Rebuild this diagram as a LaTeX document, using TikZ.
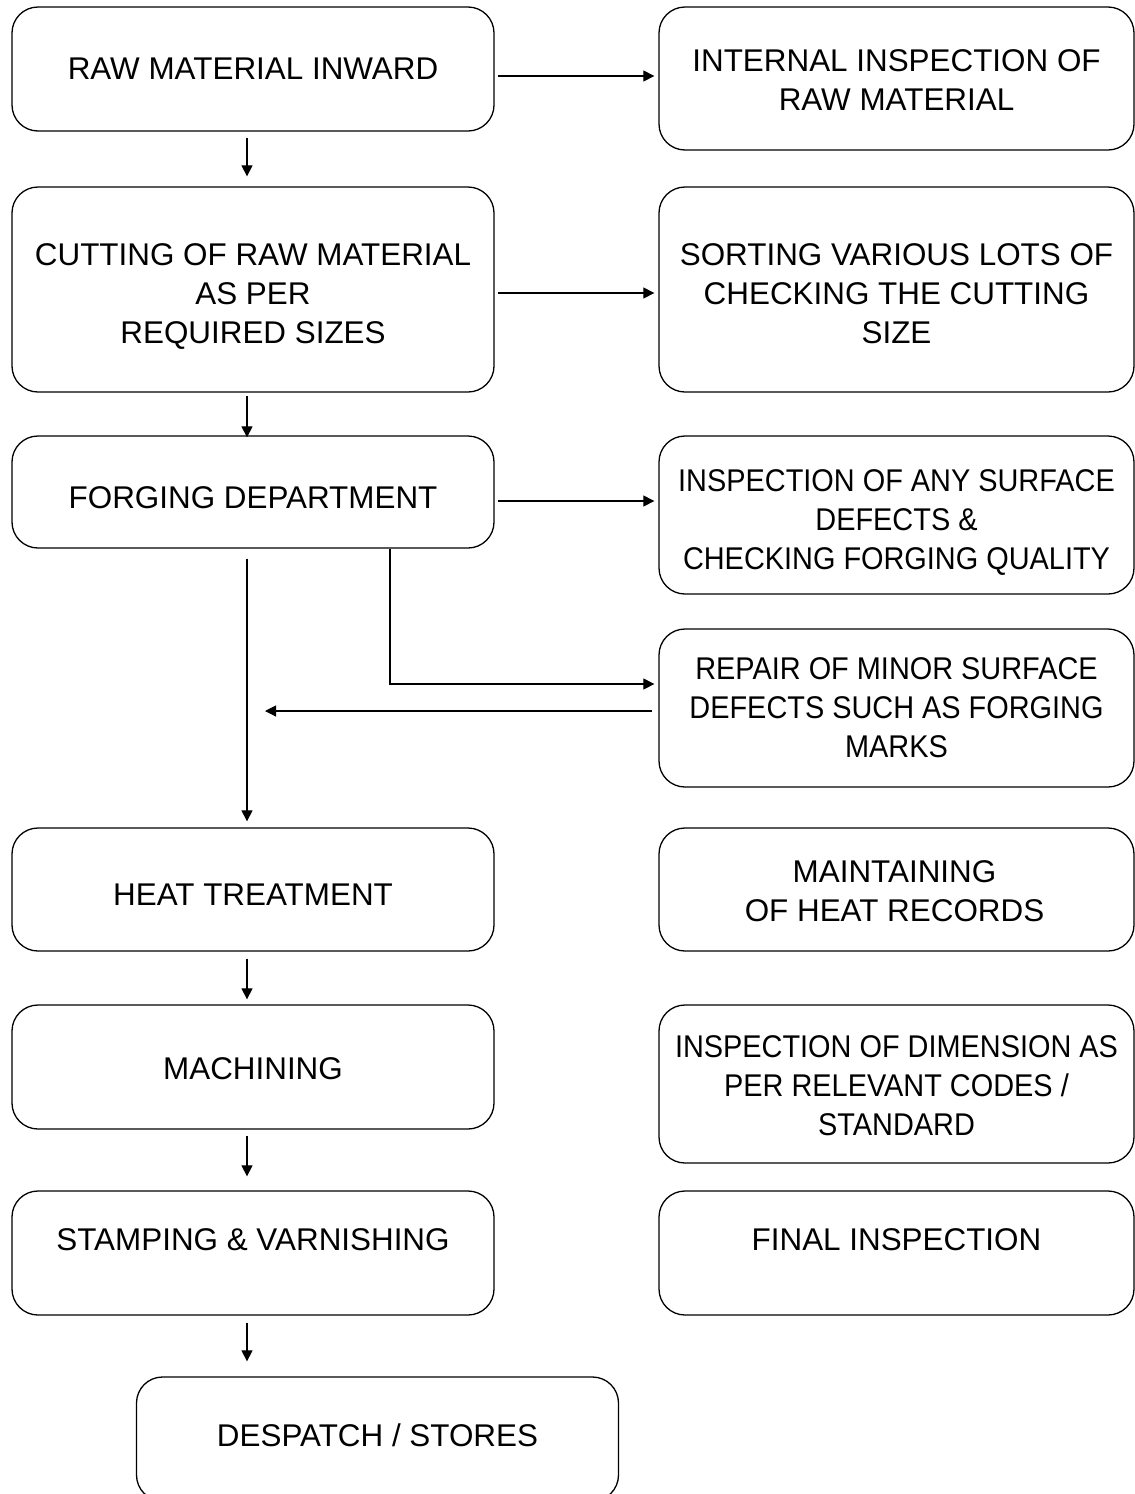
\documentclass[tikz,border=0pt]{standalone}
\usepackage{fontspec}
\setmainfont{Liberation Sans}
\newfontfamily\narrowfont[FakeStretch=0.92]{Liberation Sans}
\usepackage{tikz}
\usetikzlibrary{arrows.meta}

\begin{document}
\begin{tikzpicture}[x=0.5pt, y=-0.5pt,
	box/.style={draw, line width=0.65pt, rounded corners=13pt},
	lbox/.style={box, minimum width=241pt},
	rbox/.style={box, minimum width=237.5pt},
	txt/.style={align=center, inner sep=0pt},
	arr/.style={-{Triangle[length=5.5pt,width=5.5pt]}, line width=0.55pt},
	node font=\fontsize{15.7pt}{19.5pt}\selectfont]
	\useasboundingbox (0,0) rectangle (1135,1494);

	\node[lbox, minimum height=62pt,	label={[txt]center:RAW MATERIAL INWARD}]	(inward)	at (253,69) {};
	\node[lbox, minimum height=102.5pt,	label={[txt, yshift=-3.5pt]center:CUTTING OF RAW MATERIAL\\AS PER\\REQUIRED SIZES}]	(cutting)	at (253,289.5) {};
	\node[lbox, minimum height=56pt,	label={[txt, yshift=-3pt]center:FORGING DEPARTMENT}]	(forging)	at (253,492) {};
	\node[lbox, minimum height=61.5pt,	label={[txt, yshift=-2.5pt]center:HEAT TREATMENT}]	(heat)	at (253,889.5) {};
	\node[lbox, minimum height=62pt,	label={[txt, yshift=-1pt]center:MACHINING}]	(machining)	at (253,1067) {};
	\node[lbox, minimum height=62pt,	label={[txt, yshift=6.5pt]center:STAMPING \& VARNISHING}]	(stamping)	at (253,1253) {};
	\node[lbox, minimum height=62pt,	label={[txt, yshift=2pt]center:DESPATCH / STORES}]	(despatch)	at (377.5,1439) {};

	\node[rbox, minimum height=71.5pt,	label={[txt, yshift=-1pt]center:INTERNAL INSPECTION OF\\RAW MATERIAL}]	(rawinsp)	at (896.5,78.5) {};
	\node[rbox, minimum height=102.5pt,	label={[txt, yshift=-2pt]center:SORTING VARIOUS LOTS OF\\CHECKING THE CUTTING\\SIZE}]	(sorting)	at (896.5,289.5) {};
	\node[rbox, minimum height=79pt,	label={[txt, font=\narrowfont, yshift=-3.5pt]center:INSPECTION OF ANY SURFACE\\DEFECTS \&\\CHECKING FORGING QUALITY}]	(surface)	at (896.5,515) {};
	\node[rbox, minimum height=79pt,	label={[txt, font=\narrowfont]center:REPAIR OF MINOR SURFACE\\DEFECTS SUCH AS FORGING\\MARKS}]	(repair)	at (896.5,708) {};
	\node[rbox, minimum height=61.5pt,	label={[txt, xshift=-1pt, yshift=-0.75pt]center:MAINTAINING\\OF HEAT RECORDS}]	(records)	at (896.5,889.5) {};
	\node[rbox, minimum height=79pt,	label={[txt, font=\narrowfont, yshift=-1pt]center:INSPECTION OF DIMENSION AS\\PER RELEVANT CODES /\\STANDARD}]	(dimension)	at (896.5,1084) {};
	\node[rbox, minimum height=62pt,	label={[txt, yshift=6.5pt]center:FINAL INSPECTION}]	(final)	at (896.5,1253) {};

	\coordinate (back) at (265,711);

	\draw[arr] ([shift={(3,7)}]inward.east) -- ([shift={(-4,-2.5)}]rawinsp.west);
	\draw[arr] ([shift={(3,3.5)}]cutting.east) -- ([shift={(-4,3.5)}]sorting.west);
	\draw[arr] ([shift={(3,9)}]forging.east) -- ([shift={(-4,-14)}]surface.west);
	\draw[arr] ([shift={(137,0)}]forging.south) |- ([shift={(-4,-24)}]repair.west);
	\draw[arr] ([shift={(-6,3)}]repair.west) -- (back);

	\draw[arr] ([shift={(-6,6)}]inward.south) -- ([shift={(-6,-10)}]cutting.north);
	\draw[arr] ([shift={(-6,3)}]cutting.south) -- ([shift={(-6,2)}]forging.north);
	\draw[arr] ([shift={(-6,10)}]forging.south) -- ([shift={(-6,-6)}]heat.north);
	\draw[arr] ([shift={(-6,7)}]heat.south) -- ([shift={(-6,-5)}]machining.north);
	\draw[arr] ([shift={(-6,6)}]machining.south) -- ([shift={(-6,-14)}]stamping.north);
	\draw[arr] ([shift={(-6,7)}]stamping.south) -- ([shift={(-130.5,-15)}]despatch.north);
\end{tikzpicture}
\end{document}
